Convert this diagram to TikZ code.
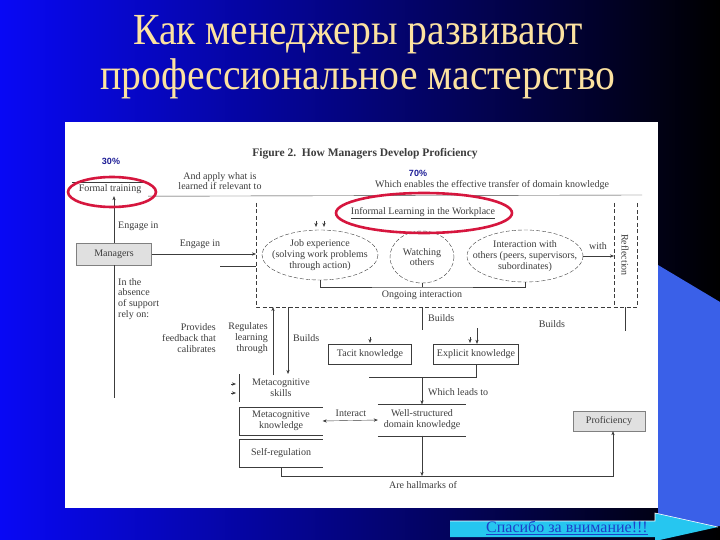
\documentclass[tikz,border=0pt]{standalone}
\usepackage{graphicx}
\usepackage{fontspec}
\setmainfont{Liberation Serif}
\newfontfamily\pctfont{Liberation Sans}
\usetikzlibrary{positioning,arrows.meta,calc,shapes.geometric}

\definecolor{slideblue}{RGB}{8,8,245}
\definecolor{midblue}{RGB}{14,14,190}
\definecolor{titlegold}{RGB}{252,226,160}
\definecolor{sideblue}{RGB}{58,96,232}
\definecolor{ringred}{RGB}{214,22,62}
\definecolor{pctblue}{RGB}{28,28,150}
\definecolor{ink}{RGB}{60,60,60}
\definecolor{btncyan}{RGB}{38,198,240}
\definecolor{btntext}{RGB}{30,64,200}

\begin{document}
\begin{tikzpicture}[x=1pt, y=-1pt,
  txt/.style={font=\fontsize{10}{10.8}\selectfont, text=ink, inner sep=1pt,
              align=center},
  box/.style={txt, draw=ink, thin, inner sep=0pt},
  grey/.style={box, fill=black!12, draw=black!50},
  ring/.style={ellipse, draw=ringred, line width=2.6pt, inner sep=0pt},
  pct/.style={font=\pctfont\bfseries\fontsize{9}{10}\selectfont, text=pctblue},
  title/.style={font=\fontsize{37}{43}\selectfont, text=titlegold},
  ln/.style={draw=ink, thin},
  wsline/.style={draw=ink, thin, dash pattern=on 4pt off 2.5pt},
  bubline/.style={draw=ink, thin, dash pattern=on 4pt off 2pt},
  arr/.style={ln, -{Stealth[length=4pt, width=3.2pt]}},
  twoarr/.style={ln, {Stealth[length=4pt, width=3.2pt]}-{Stealth[length=4pt, width=3.2pt]}}]
% slide background
\shade[left color=slideblue, middle color=midblue, right color=black]
  (0,0) rectangle (720,540);
\fill[sideblue] (658,265) -- (720,302) -- (720,526) -- (658,526) -- cycle;
\fill[white] (65,122) rectangle (658,508);
\useasboundingbox (0,0) rectangle (720,540);
\node[title] (ttl1) at (358,35)
  {\scalebox{1.07}[1.2]{Как менеджеры развивают}};
\node[title] (ttl2) at (358,79)
  {\scalebox{1.07}[1.2]{профессиональное мастерство}};

% figure heading and shares
\node[txt, font=\bfseries\fontsize{11.5}{12}\selectfont] (figttl) at (365,154)
  {Figure 2.\ \ How Managers Develop Proficiency};
\node[pct] (p30) at (111,161) {30\%};
\node[pct] (p70) at (418,173) {70\%};

% formal route
\node[txt, minimum width=76, minimum height=14] (formal) at (110,189)
  {Formal training};
\draw[ln] (formal.north west) -- (formal.north east);
\coordinate (topR) at (642,195);
\draw[ln] (formal.south east) -- (topR);
\node[txt] (apply) at (220,181) {And apply what is\\learned if relevant to};
\node[txt] (transfer) at (492,185)
  {Which enables the effective transfer of domain knowledge};
\node[grey, minimum width=75, minimum height=22] (mgr) at (114,254) {Managers};
\draw[arr] (mgr.north) -- (mgr.north |- formal.south);
\node[txt, anchor=west] (eng1) at (117,226) {Engage in};
\coordinate (mgrdown) at (114,398);
\draw[ln] (mgr.south) -- (mgrdown);
\node[txt, anchor=north west, align=left] (absence) at (117,277)
  {In the\\absence\\of support\\rely on:};

% informal learning in the workplace
\coordinate (wsL) at (256,254);
\draw[arr] (mgr.east) -- (wsL);
\node[txt, anchor=south] (eng2) at (200,250) {Engage in};
\coordinate (side0) at (220,266);
\coordinate (side1) at (256,266);
\draw[ln] (side0) -- (side1);
\draw[wsline] (256,203) -- (256,307) -- (637,307) -- (637,203);
\draw[wsline] (614,203) -- (614,307);
\node[txt, rotate=-90] (refl) at (625,255) {Reflection};
\node[txt] (informal) at (423,213) {\underline{Informal Learning in the Workplace}};
\node[txt] (job) at (320,255)
  {Job experience\\(solving work problems\\through action)};
\draw[bubline] (job.center) ellipse [x radius=58, y radius=25];
\node[txt] (watch) at (422,257) {Watching\\others};
\draw[bubline] (watch.center) ellipse [x radius=32, y radius=26];
\node[txt] (inter) at (525,256)
  {Interaction with\\others (peers, supervisors,\\subordinates)};
\draw[bubline] (inter.center) ellipse [x radius=58, y radius=26];
\coordinate (tipA) at (316,221);
\coordinate (tipB) at (324,221);
\draw[arr] (tipA) -- ++(0,6);
\draw[arr] (tipB) -- ++(0,6);
\coordinate (jobS) at (320,280);
\coordinate (watchS) at (422,283);
\coordinate (interS) at (525,282);
\coordinate (brk) at (422,287);
\draw[ln] (jobS) |- (brk) -| (interS);
\draw[ln] (watchS) -- (brk);
\node[txt] (ongoing) at (422,295) {Ongoing interaction};
\coordinate (interE) at (583,256);
\coordinate (reflL) at (614,256);
\draw[arr] (interE) -- (reflL);
\node[txt] (with) at (598,246) {with};

% knowledge
\coordinate (wsB) at (422,307);
\coordinate (bld1) at (422,330);
\draw[ln] (wsB) -- (bld1);
\node[txt, anchor=west] (bld1lbl) at (427,318) {Builds};
\coordinate (rfB) at (625,307);
\coordinate (rfD) at (625,331);
\draw[ln] (rfB) -- (rfD);
\node[txt] (bld3lbl) at (552,324) {Builds};
\node[box, minimum width=83, minimum height=20] (tacit) at (370,354)
  {Tacit knowledge};
\node[box, minimum width=85, minimum height=20] (explicit) at (476,354)
  {Explicit knowledge};
\coordinate (tipC) at (370,337);
\coordinate (tipD) at (470,337);
\coordinate (expT) at (477,328);
\draw[arr] (tipC) -- ++(0,6);
\draw[arr] (tipD) -- ++(0,6);
\draw[arr] (expT) -- (explicit.north -| expT);
\coordinate (kjoin) at (476,377);
\coordinate (kleft) at (369,377);
\draw[ln] (explicit.south) -- (kjoin) -- (kleft);
\node[txt, minimum width=88, minimum height=31] (wsd) at (422,420)
  {Well-structured\\domain knowledge};
\draw[ln] (wsd.north west) -- (wsd.north east);
\draw[ln] (wsd.south west) -- (wsd.south east);
\draw[arr] (wsd.north |- kjoin) -- (wsd.north);
\node[txt, anchor=west] (leads) at (427,392) {Which leads to};

% metacognition
\node[txt, minimum width=83, minimum height=27] (mskill) at (281,388)
  {Metacognitive\\skills};
\draw[ln] (mskill.north west) -- (mskill.south west);
\node[txt, minimum width=83, minimum height=28] (mknow) at (281,421)
  {Metacognitive\\knowledge};
\draw[ln] (mknow.north east) -- (mknow.north west) -- (mknow.south west)
  -- (mknow.south east);
\node[txt, minimum width=83, minimum height=28] (selfreg) at (281,453)
  {Self-regulation};
\draw[ln] (selfreg.north east) -- (selfreg.north west) -- (selfreg.south west)
  -- (selfreg.south east);
\coordinate (tipE) at (231,384);
\coordinate (tipF) at (231,393);
\draw[arr] (tipE) -- ++(5,0);
\draw[arr] (tipF) -- ++(5,0);
\draw[twoarr] (mknow.east) -- (wsd.west);
\node[txt] (interact) at (351,413) {Interact};
\coordinate (regB) at (273,375);
\coordinate (regT) at (273,307);
\draw[arr] (regB) -- (regT);
\coordinate (bld2T) at (288,307);
\coordinate (bld2B) at (288,374);
\draw[arr] (bld2T) -- (bld2B);
\node[txt, anchor=east, align=right] (reglbl) at (269,338)
  {Regulates\\learning\\through};
\node[txt, anchor=west] (bld2lbl) at (292,338) {Builds};
\node[txt, anchor=east, align=right] (fblbl) at (217,338)
  {Provides\\feedback that\\calibrates};

% proficiency
\node[grey, minimum width=72, minimum height=20] (prof) at (609,421)
  {Proficiency};
\coordinate (hmR) at (613,476);
\draw[arr] (selfreg.south) |- (hmR) -- (hmR |- prof.south);
\draw[arr] (wsd.south) -- (wsd.south |- hmR);
\node[txt] (hallmark) at (423,485) {Are hallmarks of};

% rings
\node[ring, minimum width=88, minimum height=30] (ring30) at (112,192) {};
\node[ring, minimum width=176, minimum height=40] (ring70) at (424,213) {};

% button
\fill[btncyan] (450,521) -- (655,521) -- (655,513) -- (718,527) -- (655,541)
  -- (655,537) -- (450,537) -- cycle;
\draw[white, semithick] (450,521) -- (655,521) -- (655,513) -- (718,527);
\node[font=\fontsize{16}{18}\selectfont, text=btntext] (thanks) at (567,528)
  {\underline{Спасибо за внимание!!!}};
\end{tikzpicture}
\end{document}
